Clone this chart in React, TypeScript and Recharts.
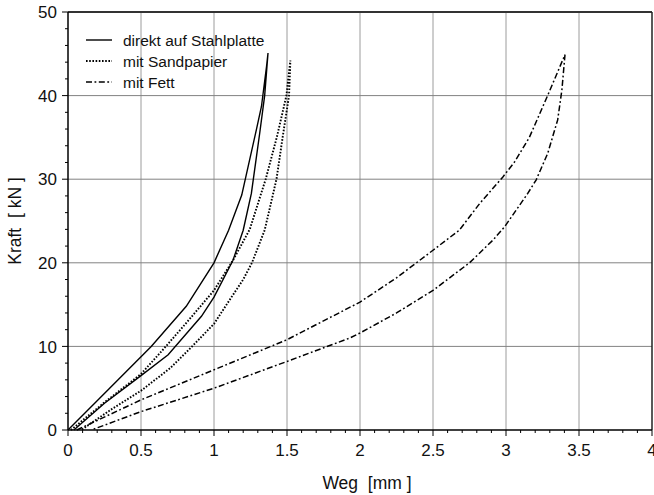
import React from 'react';
import { LineChart, Line, XAxis, YAxis, ReferenceLine, Legend } from 'recharts';

// Kraft-Weg-Schleifen (Belastung + Entlastung), Weg in mm, Kraft in kN
const stahlWeg = [0, 0.28, 0.57, 0.81, 1.0, 1.1, 1.19, 1.29, 1.325, 1.36, 1.37, 1.347, 1.313, 1.256, 1.2, 1.13, 1.0, 0.914, 0.686, 0.5, 0.25, 0.04];
const stahlKraft = [0, 4.9, 10, 14.8, 20, 23.9, 28.1, 35.9, 38.7, 43.5, 45.1, 40, 35.5, 28.3, 23.9, 20.3, 15.9, 13.6, 9.0, 6.5, 3.2, 0];

const sandWeg = [0.02, 0.25, 0.5, 0.65, 0.8, 1.0, 1.13, 1.245, 1.354, 1.43, 1.496, 1.523, 1.514, 1.47, 1.428, 1.347, 1.26, 1.2, 1.12, 1.0, 0.85, 0.7, 0.5, 0.3, 0.09];
const sandKraft = [0, 3.3, 6.7, 9.6, 12.6, 16.7, 20.3, 24, 30, 35, 40, 44.2, 40, 35, 30, 23.9, 20, 18, 15.9, 12.7, 10, 7.4, 4.7, 2.5, 0];

const fettWeg = [0.06, 0.5, 1.0, 1.5, 2.0, 2.25, 2.5, 2.68, 2.82, 2.98, 3.06, 3.16, 3.285, 3.404, 3.383, 3.354, 3.286, 3.206, 3.149, 2.99, 2.91, 2.75, 2.5, 2.25, 2.0, 1.93, 1.5, 1.0, 0.5, 0.16];
const fettKraft = [0, 3.6, 7.2, 10.8, 15.3, 18.2, 21.5, 23.9, 27.1, 30.3, 32.1, 35, 40, 44.9, 40.7, 37.1, 33.1, 29.9, 28.3, 24.3, 22.7, 20, 16.7, 14, 11.6, 11.0, 8.2, 5.0, 2.2, 0];

const seriesNames = ['direkt auf Stahlplatte', 'mit Sandpapier', 'mit Fett'];

const xGrid = [0.5, 1, 1.5, 2, 2.5, 3, 3.5];
const yGrid = [10, 20, 30, 40];
const xTicks = Array.from({ length: 41 }, (_, i) => i / 10);
const yTicks = Array.from({ length: 26 }, (_, i) => i * 2);

const toRows = (weg: number[], kraft: number[]) => weg.map((w, i) => ({ weg: w, kraft: kraft[i] }));

const TICK_FONT = "'Liberation Sans Narrow', 'Liberation Sans', Arial, sans-serif";
const TEXT_FONT = "'Liberation Sans', Arial, sans-serif";

const styles = [
  { dash: undefined, width: 1.4 },
  { dash: '1.6 1.6', width: 1.9 },
  { dash: '6 2.5 1.8 2.5', width: 1.5 },
];

function XTick({ x, y, payload }: any) {
  const v = payload.value;
  const major = Math.round(v * 10) % 5 === 0;
  return (
    <g>
      <line x1={x} x2={x} y1={y} y2={y + (major ? 6 : 3)} stroke="#000" strokeWidth={1} />
      {major && (
        <text x={x} y={y + 14} dy="0.72em" textAnchor="middle" fontFamily={TICK_FONT} fontSize={17} fill="#111">
          {String(v)}
        </text>
      )}
    </g>
  );
}

function YTick({ x, y, payload }: any) {
  const v = payload.value;
  const major = v % 10 === 0;
  return (
    <g>
      <line x1={x} x2={x - (major ? 6 : 3)} y1={y} y2={y} stroke="#000" strokeWidth={1} />
      {major && (
        <text x={x - 11} y={y} dy="0.36em" textAnchor="end" fontFamily={TICK_FONT} fontSize={17} fill="#111">
          {String(v)}
        </text>
      )}
    </g>
  );
}

function LegendBox() {
  return (
    <svg width={200} height={62}>
      {seriesNames.map((name, i) => (
        <g key={name} transform={`translate(0, ${8 + i * 21})`}>
          <line x1={0} x2={26} y1={0} y2={0} stroke="#000" strokeWidth={styles[i].width} strokeDasharray={styles[i].dash} />
          <text x={37} y={0} dy="0.36em" fontFamily={TEXT_FONT} fontSize={15.5} fill="#111">
            {name}
          </text>
        </g>
      ))}
    </svg>
  );
}

export default function App() {
  const data = [toRows(stahlWeg, stahlKraft), toRows(sandWeg, sandKraft), toRows(fettWeg, fettKraft)];
  return (
    <div style={{ position: 'absolute', left: 0, top: 0, background: '#fff' }}>
      <LineChart width={654} height={495} margin={{ top: 12, right: 2, bottom: 0, left: 0 }}>
        <XAxis
          type="number"
          dataKey="weg"
          domain={[0, 4]}
          ticks={xTicks}
          interval={0}
          tickSize={0}
          tickMargin={0}
          tickLine={false}
          tick={(p: any) => <XTick {...p} />}
          height={65}
          axisLine={{ stroke: '#000', strokeWidth: 1.5 }}
          label={{
            value: 'Weg\u00A0\u00A0[mm\u00A0]',
            position: 'insideBottom',
            offset: 6,
            dx: 7,
            style: { fontFamily: TEXT_FONT, fontSize: 17.5, fill: '#111' },
          }}
        />
        <YAxis
          type="number"
          dataKey="kraft"
          domain={[0, 50]}
          ticks={yTicks}
          interval={0}
          tickSize={0}
          tickMargin={0}
          tickLine={false}
          tick={(p: any) => <YTick {...p} />}
          width={68}
          axisLine={{ stroke: '#000', strokeWidth: 1.5 }}
          label={{
            value: 'Kraft\u00A0\u00A0[\u00A0kN\u00A0]',
            angle: -90,
            position: 'insideLeft',
            offset: 15,
            style: { fontFamily: TEXT_FONT, fontSize: 17.5, fill: '#111', textAnchor: 'middle' },
          }}
        />
        {xGrid.map((v) => (
          <ReferenceLine key={`x${v}`} x={v} stroke="#9c9c9c" strokeWidth={1} />
        ))}
        {yGrid.map((v) => (
          <ReferenceLine key={`y${v}`} y={v} stroke="#828282" strokeWidth={1} />
        ))}
        <ReferenceLine y={50} stroke="#333" strokeWidth={2} />
        <ReferenceLine x={4} stroke="#222" strokeWidth={1.5} />
        <Legend
          layout="horizontal"
          verticalAlign="middle"
          align="center"
          content={() => <LegendBox />}
          wrapperStyle={{ left: 86, top: 32, width: 200, height: 62 }}
        />
        {data.map((rows, i) => (
          <Line
            key={seriesNames[i]}
            name={seriesNames[i]}
            data={rows}
            dataKey="kraft"
            type="linear"
            stroke="#000"
            strokeWidth={styles[i].width}
            strokeDasharray={styles[i].dash}
            dot={false}
            activeDot={false}
            isAnimationActive={false}
          />
        ))}
      </LineChart>
    </div>
  );
}
